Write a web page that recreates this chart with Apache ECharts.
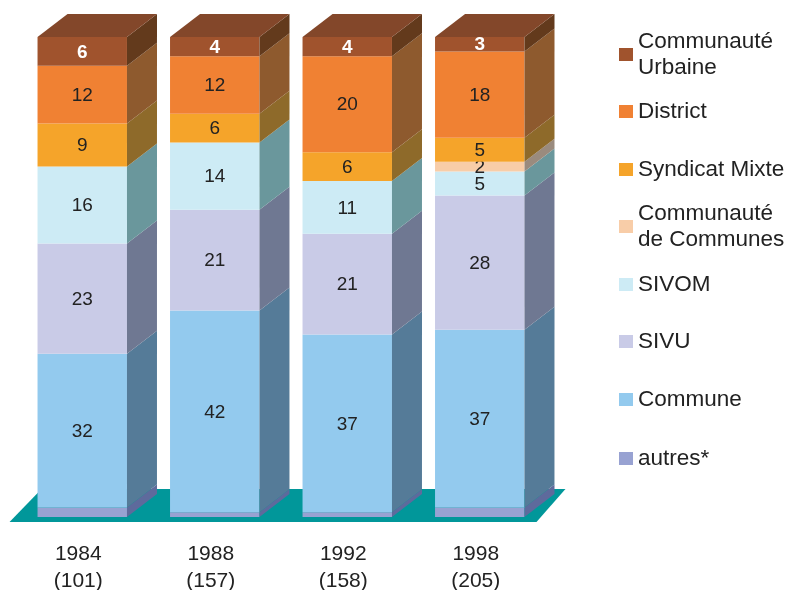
<!DOCTYPE html>
<html>
<head>
<meta charset="utf-8">
<script src="https://cdn.jsdelivr.net/npm/echarts@6/dist/echarts.min.js"></script>
<style>html,body{margin:0;padding:0;background:#fff;}#c{width:788px;height:590px;}</style>
</head>
<body>
<div id="c"></div>
<script>
var years = ['1984', '1988', '1992', '1998'];
var counts = ['(101)', '(157)', '(158)', '(205)'];
// stacking order bottom -> top
var autres = [2, 1, 1, 2];
var commune = [32, 42, 37, 37];
var sivu = [23, 21, 21, 28];
var sivom = [16, 14, 11, 5];
var communauteCommunes = [0, 0, 0, 2];
var syndicatMixte = [9, 6, 6, 5];
var district = [12, 12, 20, 18];
var communauteUrbaine = [6, 4, 4, 3];

var layers = [
  {name: 'autres*', values: autres, front: '#98A2D2', side: '#5E6A9C', label: false},
  {name: 'Commune', values: commune, front: '#93CAEE', side: '#557B98', label: true},
  {name: 'SIVU', values: sivu, front: '#C9CBE7', side: '#6F7892', label: true},
  {name: 'SIVOM', values: sivom, front: '#CDEBF5', side: '#6A979C', label: true},
  {name: 'Communauté\nde Communes', values: communauteCommunes, front: '#F8CDA8', side: '#9A8B7E', label: true},
  {name: 'Syndicat Mixte', values: syndicatMixte, front: '#F5A42A', side: '#8E6A2A', label: true},
  {name: 'District', values: district, front: '#F08133', side: '#8E5A2E', label: true},
  {name: 'Communauté\nUrbaine', values: communauteUrbaine, front: '#A0532D', side: '#633A1C', top: '#83472A', label: true, white: true}
];

var DX = 30, DY = -23, BAR_RATIO = 0.675;

var cum = years.map(function () { return 0; });
var series = [];

// floor
series.push({
  type: 'custom',
  name: 'floor',
  silent: true,
  data: [[0]],
  renderItem: function (params, api) {
    var pa = api.coord([0, 0]);
    var pb = api.coord([years.length - 1, 0]);
    var w = api.size([1, 0])[0] * BAR_RATIO;
    var y0 = pa[1];
    return {
      type: 'polygon',
      shape: {points: [
        [pa[0] - w / 2 - 28, y0 + 5],
        [pb[0] + w / 2 + 12, y0 + 5],
        [pb[0] + w / 2 + 41, y0 - 28],
        [pa[0] - w / 2 + 4, y0 - 28]
      ]},
      style: {fill: '#01979A'}
    };
  }
});

layers.forEach(function (L) {
  var data = L.values.map(function (v, i) {
    var base = cum[i];
    cum[i] += v;
    return [i, v, base];
  });
  series.push({
    type: 'custom',
    name: L.name,
    itemStyle: {color: L.front},
    data: data,
    renderItem: function (params, api) {
      var x = api.value(0), v = api.value(1), base = api.value(2);
      if (!v) return null;
      var p0 = api.coord([x, base]);
      var p1 = api.coord([x, base + v]);
      var w = api.size([1, 0])[0] * BAR_RATIO;
      var xl = p0[0] - w / 2, xr = p0[0] + w / 2;
      var yb = p0[1], yt = p1[1];
      var children = [
        {type: 'rect', shape: {x: xl, y: yt, width: w, height: yb - yt}, style: {fill: L.front}},
        {type: 'polygon', shape: {points: [[xr, yt], [xr + DX, yt + DY], [xr + DX, yb + DY], [xr, yb]]}, style: {fill: L.side}}
      ];
      if (L.top) {
        children.push({type: 'polygon', shape: {points: [[xl, yt], [xl + DX, yt + DY], [xr + DX, yt + DY], [xr, yt]]}, style: {fill: L.top}});
      }
      if (L.label) {
        children.push({
          type: 'text',
          style: {
            text: String(v), x: p0[0], y: (yt + yb) / 2 + 1,
            align: 'center', verticalAlign: 'middle',
            fill: L.white ? '#ffffff' : '#222222',
            font: (L.white ? 'bold ' : '') + '19px "Liberation Sans", Arial, sans-serif'
          }
        });
      }
      return {type: 'group', children: children};
    }
  });
});

// legend (top -> bottom), one component per entry for exact spacing
var legendOrder = layers.slice().reverse();
var iconCenters = [54.5, 111.5, 169.5, 226.5, 284.5, 341.5, 399.5, 458.5];
var legends = legendOrder.map(function (L, k) {
  var twoLine = L.name.indexOf('\n') >= 0;
  return {
    data: [L.name],
    orient: 'vertical',
    left: 619,
    top: iconCenters[k] - (twoLine ? 39 : 13),
    padding: 0,
    icon: 'rect',
    itemWidth: 14,
    itemHeight: 13,
    selectedMode: false,
    textStyle: {
      fontSize: 22.5, lineHeight: 26, color: '#222222',
      fontFamily: '"Liberation Sans", Arial, sans-serif',
      padding: twoLine ? [26, 0, 0, 0] : 0
    }
  };
});

var chart = echarts.init(document.getElementById('c'), null, {renderer: 'canvas'});
chart.setOption({
  animation: false,
  backgroundColor: '#ffffff',
  grid: {left: 16, right: 788 - 546, top: 37, bottom: 73, outerBoundsMode: 'none', containLabel: false},
  xAxis: {
    type: 'category',
    data: years.map(function (y, i) { return y + '\n' + counts[i]; }),
    axisLine: {show: false},
    axisTick: {show: false},
    axisLabel: {
      margin: 24, fontSize: 21, lineHeight: 27, color: '#222222',
      fontFamily: '"Liberation Sans", Arial, sans-serif',
      padding: [0, 8, 0, 0]
    }
  },
  yAxis: {type: 'value', min: 0, max: 100, show: false, splitLine: {show: false}},
  legend: legends,
  series: series
});
</script>
</body>
</html>
